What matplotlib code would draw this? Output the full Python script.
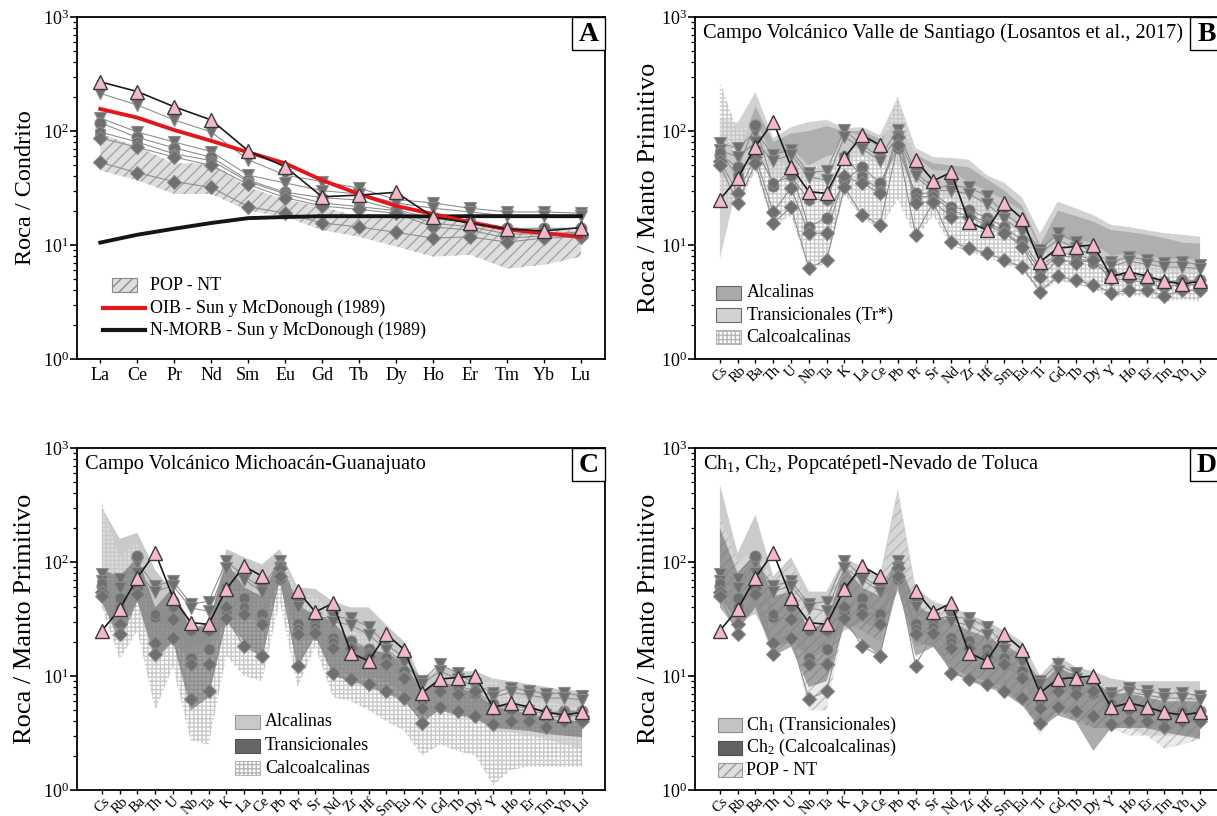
import numpy as np
import matplotlib
matplotlib.use("Agg")
import matplotlib.pyplot as plt
from matplotlib.patches import Rectangle
from matplotlib.lines import Line2D
from matplotlib.ticker import LogLocator, LogFormatterMathtext, NullFormatter

plt.rcParams['font.family'] = ['Liberation Serif', 'DejaVu Serif']
plt.rcParams['mathtext.fontset'] = 'custom'
plt.rcParams['mathtext.rm'] = 'Liberation Serif'
plt.rcParams['mathtext.it'] = 'Liberation Serif:italic'
plt.rcParams['mathtext.bf'] = 'Liberation Serif:bold'
plt.rcParams['hatch.linewidth'] = 1.0

nan = np.nan

# ---------------- element lists ----------------
REE = ['La', 'Ce', 'Pr', 'Nd', 'Sm', 'Eu', 'Gd', 'Tb', 'Dy', 'Ho', 'Er', 'Tm', 'Yb', 'Lu']
SPIDER = ['Cs', 'Rb', 'Ba', 'Th', 'U', 'Nb', 'Ta', 'K', 'La', 'Ce', 'Pb', 'Pr', 'Sr', 'Nd',
          'Zr', 'Hf', 'Sm', 'Eu', 'Ti', 'Gd', 'Tb', 'Dy', 'Y', 'Ho', 'Er', 'Tm', 'Yb', 'Lu']

# ---------------- chondrite-normalised REE (panel A) ----------------
PINK_CH = [270, 222, 163, 125, 67, 48.6, 26.5, 27.4, 29, 17.6, 15.6, 13.8, 13.3, 14.2]
V1_CH = [214, 169, 125, 98, 56, 41, 36, 31.6, 25, 23.4, 21, 19.5, 19.5, 19]
V2_CH = [130, 98, 80, 66, 41, 35, 30, 28, 23.4, 21, 19.5, 18, 18, 18]
O_CH = [118, 88, 71, 59, 37, 29, 26, 24.8, 20.4, 17, 16, 14, 14, 14]
H_CH = [98, 80, 63, 55, 36, 28, 23.4, 21.7, 20, 15.5, 14.5, 12.5, 12.5, 13]
D1_CH = [87, 72, 59, 50, 34, 26, 22, 20.5, 19, 14.4, 13.5, 11.5, 12, 12.7]
D2_CH = [53, 43, 36, 32, 21.7, 19, 15.6, 14.4, 12.9, 11.5, 11.8, 10.6, 11.5, 11.8]
OIB_CH = [156, 131, 102, 82, 65, 52, 37, 28, 22, 18.7, 15.8, 13.7, 12.7, 11.8]
NMORB_CH = [10.5, 12.3, 13.9, 15.6, 17.2, 17.6, 17.9, 17.9, 17.9, 17.8, 17.9, 17.9, 17.9, 17.9]
POP_CH_HI = [95, 73, 52, 52, 32, 25, 21.7, 17.7, 17.7, 16.6, 16.6, 14.5, 13.5, 13.5]
POP_CH_LO = [45, 37, 28, 28, 20, 17.7, 13.5, 11.8, 9.7, 7.9, 8.2, 6.2, 6.7, 7.9]

# ---------------- primitive-mantle-normalised samples (panels B-D) ----------------
PINK_PM = [25, 38.5, 73, 121, 48.6, 29.4, 28.4, 58, 92, 75, nan, 56, 36.5, 43.5,
           16, 13.5, 23.3, 17, 7.1, 9.4, 9.7, 10, 5.3, 5.8, 5.35, 4.8, 4.55, 4.8]
V1_PM = [78, 71, 98, 62, 68, 43, 45, 102, 75, 59, 102, 43, 32, 33,
         32, 27, 19, 14.4, 9.1, 12.7, 10.6, 8.5, 7.1, 7.9, 7.4, 7.0, 7.1, 6.7]
V2_PM = [68, 59, 80, 55, 62, 39.5, 37, 89, 70, 55, 89, 40, 30, 30,
         28, 23, 17, 13, 8.5, 11, 9.5, 8.0, 6.5, 7.2, 6.8, 6.4, 6.4, 6.2]
O_PM = [62, 48, 113, 33, 45.5, 14.4, 17.3, 37, 48, 35, 71, 28.5, 28.5, 21.5,
        20.4, 17.3, 14.4, 11, 6.4, 8.5, 8.2, 7.4, 5.7, 5.2, 4.9, 4.7, 4.9, 4.9]
H_PM = [65, 40, 70, 35, 40, 25, 25, 60, 40, 30, 95, 26, 27, 20,
        18, 16, 13, 10, 6.0, 8.0, 7.8, 7.0, 5.3, 5.5, 5.2, 4.8, 4.8, 4.8]
D1_PM = [55, 28.5, 59, 19.5, 31.6, 12.7, 12.7, 40, 35, 28.5, 89, 23.5, 24, 17.6,
         17.6, 15, 12.7, 9.6, 5.2, 7.4, 7.0, 7.4, 5.0, 5.0, 4.6, 4.3, 4.5, 4.5]
D2_PM = [50, 23.5, 52, 15.6, 21.5, 6.3, 7.4, 32, 18.3, 15, 75, 12.3, 24, 10.7,
         9.4, 8.5, 7.4, 6.4, 3.9, 5.3, 4.9, 4.5, 3.8, 4.0, 4.0, 3.6, 4.0, 4.0]

# ---------------- fields, panel B (Valle de Santiago) ----------------
B_TRANS_HI = [130, 118, 220, 87, 108, 120, 125, 106, 108, 92, 198, 71, 59, 58,
              56, 41, 35, 26, 12.7, 24, 21, 18.3, 15, 14.4, 13.5, 12.7, 12.3, 11.8]
B_TRANS_LO = [7.5, 35, 55, 40, 40, 35, 40, 55, 60, 50, 50, 35, 28, 25,
              22, 18, 16, 12, 6.5, 9, 8.5, 8, 6.5, 6.5, 6, 5.5, 5.5, 5.5]
B_ALK_HI = [90, 60, 165, 80, 95, 100, 110, 100, 100, 85, 120, 62, 52, 50,
            48, 38, 30, 22, 10, 20, 18, 16, 13.5, 13, 12.3, 11.5, 10.5, 10.3]
B_ALK_LO = [40, 40, 65, 55, 50, 50, 60, 65, 75, 60, 70, 42, 32, 30,
            28, 22, 19, 14, 7.5, 11, 10, 9, 7.5, 7.5, 7, 6.5, 6.5, 6.5]
B_CALC_HI = [270, 100, 120, 60, 70, 50, 50, 100, 90, 70, 200, 60, 45, 45,
             35, 30, 25, 20, 9, 12, 11, 10.5, 8, 8.5, 8, 7.5, 7.5, 7.5]
B_CALC_LO = [25, 22, 45, 15, 18, 6, 7, 28, 17, 14, 25, 11.5, 18, 10,
             8.5, 7.8, 6.8, 6, 3.8, 4.9, 4.5, 4.1, 3.5, 3.6, 3.5, 3.2, 3.3, 3.2]

# ---------------- fields, panel C (Michoacan-Guanajuato) ----------------
C_ALK_HI = [300, 160, 180, 85, 55, 30, 25, 130, 110, 95, 130, 60, 58, 45,
            40, 40, 28, 20, 9, 12, 11, 11, 9.5, 9, 8.5, 8, 7.5, 7.5]
C_ALK_LO = [40, 25, 45, 12, 20, 14, 18, 30, 35, 30, 70, 20, 22, 12,
            10, 10, 9, 7, 4.5, 5, 5, 4.5, 3.2, 3.2, 3, 2.8, 2.5, 2.3]
C_TRANS_HI = [85, 75, 110, 40, 60, 25, 30, 100, 60, 50, 110, 40, 35, 30,
              20, 17, 16, 13, 7.5, 9, 8, 7, 5.5, 5, 4.5, 4.3, 4, 4]
C_TRANS_LO = [45, 20, 45, 14, 20, 5, 6.5, 30, 20, 14, 70, 12, 22, 10,
              9, 8, 7, 6, 4, 5, 4.5, 4.2, 3.5, 3.4, 3.3, 3.1, 3, 2.9]
C_CALC_HI = [330, 110, 150, 30, 25, 18, 20, 110, 60, 55, 120, 55, 50, 35,
             25, 22, 18, 14, 8, 8, 8, 8, 9.5, 7, 6, 6, 5.5, 5.5]
C_CALC_LO = [40, 14, 25, 5, 12, 2.7, 2.5, 15, 10, 9, 45, 8, 18, 6.5,
             6, 5, 4, 3.3, 2, 2.5, 2.2, 2, 1.1, 1.5, 1.6, 1.6, 1.6, 1.6]

# ---------------- fields, panel D (Ch1, Ch2, POP-NT) ----------------
D_CH1_HI = [480, 120, 260, 75, 110, 55, 55, 110, 90, 75, 440, 60, 45, 40,
            35, 30, 25, 20, 10, 15, 12, 11, 9.5, 9, 9, 9, 9, 9]
D_CH1_LO = [50, 30, 35, 18, 20, 15, 18, 25, 30, 25, 55, 20, 18, 12,
            10, 9, 8, 6, 3.5, 5, 4.5, 3.5, 3.5, 3.5, 3, 3, 3, 3]
D_CH2_HI = [200, 80, 120, 50, 55, 25, 30, 90, 60, 50, 110, 40, 35, 30,
            25, 22, 18, 15, 8, 12, 10, 9, 7, 7, 6.5, 6, 6, 6]
D_CH2_LO = [40, 25, 40, 15, 18, 8, 9, 28, 20, 15, 60, 15, 18, 11,
            9, 8, 7, 5.5, 3.5, 4.5, 4, 2.2, 3.5, 3.5, 3.5, 3.2, 3, 2.8]
D_POP_HI = [250, 100, 130, 70, 100, 40, 45, 100, 80, 65, 420, 55, 40, 38,
            30, 26, 22, 16, 8, 12, 10, 9, 8, 8, 8, 7.5, 7.5, 7.5]
D_POP_LO = [60, 30, 50, 20, 25, 5, 5, 30, 25, 20, 60, 18, 20, 12,
            10, 9, 7, 6, 3, 5, 4, 3.5, 3.5, 3, 3, 2.3, 2.5, 2.8]

# ---------------- figure geometry ----------------
FIG_W, FIG_H = 1217, 816
AX_W, AX_H = 528 / FIG_W, 342 / FIG_H
fig = plt.figure(figsize=(FIG_W / 100, FIG_H / 100), dpi=100)
axA = fig.add_axes([77 / FIG_W, 1 - 359 / FIG_H, AX_W, AX_H])
axB = fig.add_axes([695 / FIG_W, 1 - 359 / FIG_H, AX_W, AX_H])
axC = fig.add_axes([77 / FIG_W, 1 - 790 / FIG_H, AX_W, AX_H])
axD = fig.add_axes([695 / FIG_W, 1 - 790 / FIG_H, AX_W, AX_H])

GRAY_LINE = '#8f8f8f'
GRAY_FACE = '#6f6f6f'
GRAY_EDGE = '#8c8c8c'
PINK = '#f4b9c9'


def style_axes(ax, labels, xlim, ylabel, rotate, ylab_x, ylab_size):
    ax.set_yscale('log')
    ax.set_ylim(1, 1000)
    ax.set_xlim(*xlim)
    ax.set_xticks(np.arange(len(labels)))
    if rotate:
        ax.set_xticklabels(labels, rotation=45, ha='center', va='top', fontsize=10.5)
        ax.tick_params(axis='x', direction='out', length=3, width=1, pad=0.5)
    else:
        ax.set_xticklabels(labels, fontsize=13)
        ax.tick_params(axis='x', direction='out', length=3, width=1, pad=3)
    ax.yaxis.set_major_locator(LogLocator(base=10, numticks=10))
    ax.yaxis.set_minor_locator(LogLocator(base=10, subs=np.arange(2, 10), numticks=10))
    ax.yaxis.set_major_formatter(LogFormatterMathtext())
    ax.yaxis.set_minor_formatter(NullFormatter())
    ax.tick_params(axis='y', which='major', direction='out', length=5, width=1.2,
                   labelsize=13, pad=1)
    ax.tick_params(axis='y', which='minor', direction='out', length=3, width=0.9)
    for s in ax.spines.values():
        s.set_linewidth(1.3)
    ax.set_ylabel(ylabel, fontsize=ylab_size)
    ax.yaxis.set_label_coords(ylab_x, 0.5)


def panel_letter(ax, letter):
    w, h = 33 / 528, 33 / 342
    ax.add_patch(Rectangle((1 - w, 1 - h), w, h, transform=ax.transAxes,
                           facecolor='white', edgecolor='black', lw=1.0,
                           zorder=20, clip_on=False))
    ax.text(1 - w / 2, 1 - h / 2 - 0.004, letter, transform=ax.transAxes,
            ha='center', va='center', fontsize=20, fontweight='bold', zorder=21)


def panel_title(ax, text):
    ax.text(0.016, 0.952, text, transform=ax.transAxes, ha='left', va='center',
            fontsize=14.7, zorder=20)


def key(ax, x0, x1, xt, rows):
    h = 14 / 342
    for y, kind, style, label in rows:
        if kind == 'patch':
            ax.add_patch(Rectangle((x0, y - h / 2), x1 - x0, h, transform=ax.transAxes,
                                   zorder=15, **style))
        else:
            ax.add_line(Line2D([x0, x1], [y, y], transform=ax.transAxes, zorder=15, **style))
        ax.text(xt, y, label, transform=ax.transAxes, ha='left', va='center',
                fontsize=13, zorder=15)


def draw_samples(ax, x, samples, pink):
    for vals, mk, ms in samples:
        ax.plot(x, vals, color=GRAY_LINE, lw=0.8, zorder=3)
        ax.plot(x, vals, ls='none', marker=mk, ms=ms, mfc=GRAY_FACE, mec=GRAY_EDGE,
                mew=0.8, zorder=4)
    ax.plot(x, pink, color='#1a1a1a', lw=1.2, zorder=6)
    ax.plot(x, pink, ls='none', marker='^', ms=10, mfc=PINK, mec='#3a3a3a',
            mew=1.0, zorder=7)


# styles for fields
HATCH_POP = dict(facecolor='#dedede', edgecolor='#a6a6a6', hatch='///', lw=0)
GRID_CALC = dict(facecolor=(1, 1, 1, 0.35), edgecolor='#c8c8c8', hatch='++++', lw=0)

# ================= panel A =================
xr = np.arange(len(REE))
axA.fill_between(xr, POP_CH_LO, POP_CH_HI, zorder=1, **HATCH_POP)
samplesA = [(V1_CH, 'v', 9), (V2_CH, 'v', 9), (O_CH, 'o', 8), (H_CH, 'h', 8),
            (D1_CH, 'D', 7), (D2_CH, 'D', 7)]
for vals, mk, ms in samplesA:
    axA.plot(xr, vals, color=GRAY_LINE, lw=0.8, zorder=3)
    axA.plot(xr, vals, ls='none', marker=mk, ms=ms, mfc=GRAY_FACE, mec=GRAY_EDGE,
             mew=0.8, zorder=4)
axA.plot(xr, NMORB_CH, color='#151515', lw=2.8, zorder=5)
axA.plot(xr, OIB_CH, color='#e3161b', lw=2.8, zorder=5)
axA.plot(xr, PINK_CH, color='#1a1a1a', lw=1.2, zorder=6)
axA.plot(xr, PINK_CH, ls='none', marker='^', ms=10, mfc=PINK, mec='#3a3a3a', mew=1.0, zorder=7)
style_axes(axA, REE, (-0.63, 13.65), 'Roca / Condrito', False, -0.078, 17.5)
panel_letter(axA, 'A')
key(axA, 0.066, 0.114, 0.138, [
    (0.216, 'patch', dict(facecolor='#dedede', edgecolor='#8a8a8a', hatch='///', lw=0.8), 'POP - NT'),
])
key(axA, 0.049, 0.129, 0.138, [
    (0.149, 'line', dict(color='#e3161b', lw=3), 'OIB - Sun y McDonough (1989)'),
    (0.085, 'line', dict(color='#151515', lw=3), 'N-MORB - Sun y McDonough (1989)'),
])

# ================= panels B-D =================
xs = np.arange(len(SPIDER))
XL = (-1.4, 28.29)
samplesPM = [(V1_PM, 'v', 9), (V2_PM, 'v', 9), (O_PM, 'o', 8), (H_PM, 'h', 8),
             (D1_PM, 'D', 7), (D2_PM, 'D', 7)]

# B
axB.fill_between(xs, B_TRANS_LO, B_TRANS_HI, facecolor='#d2d2d2', lw=0, zorder=1)
axB.fill_between(xs, B_ALK_LO, B_ALK_HI, facecolor='#a9a9a9', alpha=0.85, lw=0, zorder=1.2)
axB.fill_between(xs, B_CALC_LO, B_CALC_HI, zorder=1.4, **GRID_CALC)
draw_samples(axB, xs, samplesPM, PINK_PM)
style_axes(axB, SPIDER, XL, 'Roca / Manto Primitivo', True, -0.066, 19)
panel_letter(axB, 'B')
panel_title(axB, 'Campo Volcánico Valle de Santiago (Losantos et al., 2017)')
key(axB, 0.040, 0.087, 0.098, [
    (0.193, 'patch', dict(facecolor='#a9a9a9', edgecolor='#6a6a6a', lw=0.8), 'Alcalinas'),
    (0.129, 'patch', dict(facecolor='#d2d2d2', edgecolor='#6a6a6a', lw=0.8), 'Transicionales (Tr*)'),
    (0.064, 'patch', dict(facecolor='white', edgecolor='#b5b5b5', hatch='++++', lw=0.8), 'Calcoalcalinas'),
])

# C
axC.fill_between(xs, C_ALK_LO, C_ALK_HI, facecolor='#c9c9c9', lw=0, zorder=1)
axC.fill_between(xs, C_CALC_LO, C_CALC_HI, zorder=1.2, **GRID_CALC)
axC.fill_between(xs, C_TRANS_LO, C_TRANS_HI, facecolor='#5e5e5e', alpha=0.55, lw=0, zorder=1.4)
draw_samples(axC, xs, samplesPM, PINK_PM)
style_axes(axC, SPIDER, XL, 'Roca / Manto Primitivo', True, -0.078, 19)
panel_letter(axC, 'C')
panel_title(axC, 'Campo Volcánico Michoacán-Guanajuato')
key(axC, 0.299, 0.347, 0.356, [
    (0.199, 'patch', dict(facecolor='#c9c9c9', edgecolor='#9a9a9a', lw=0.8), 'Alcalinas'),
    (0.129, 'patch', dict(facecolor='#666666', edgecolor='#555555', lw=0.8), 'Transicionales'),
    (0.064, 'patch', dict(facecolor='white', edgecolor='#b5b5b5', hatch='++++', lw=0.8), 'Calcoalcalinas'),
])

# D
axD.fill_between(xs, D_CH1_LO, D_CH1_HI, facecolor='#c4c4c4', alpha=0.85, lw=0, zorder=1)
axD.fill_between(xs, D_POP_LO, D_POP_HI, alpha=0.6, zorder=1.2, **HATCH_POP)
axD.fill_between(xs, D_CH2_LO, D_CH2_HI, facecolor='#5a5a5a', alpha=0.5, lw=0, zorder=1.4)
draw_samples(axD, xs, samplesPM, PINK_PM)
style_axes(axD, SPIDER, XL, 'Roca / Manto Primitivo', True, -0.066, 19)
panel_letter(axD, 'D')
panel_title(axD, r'Ch$_{\mathregular{1}}$, Ch$_{\mathregular{2}}$, Popcatépetl-Nevado de Toluca')
key(axD, 0.044, 0.089, 0.097, [
    (0.190, 'patch', dict(facecolor='#c4c4c4', edgecolor='#8a8a8a', lw=0.8), r'Ch$_{\mathregular{1}}$ (Transicionales)'),
    (0.124, 'patch', dict(facecolor='#626262', edgecolor='#505050', lw=0.8), r'Ch$_{\mathregular{2}}$ (Calcoalcalinas)'),
    (0.058, 'patch', dict(facecolor='#dedede', edgecolor='#9a9a9a', hatch='///', lw=0.8), 'POP - NT'),
])

fig.savefig('out.png', dpi=100)
